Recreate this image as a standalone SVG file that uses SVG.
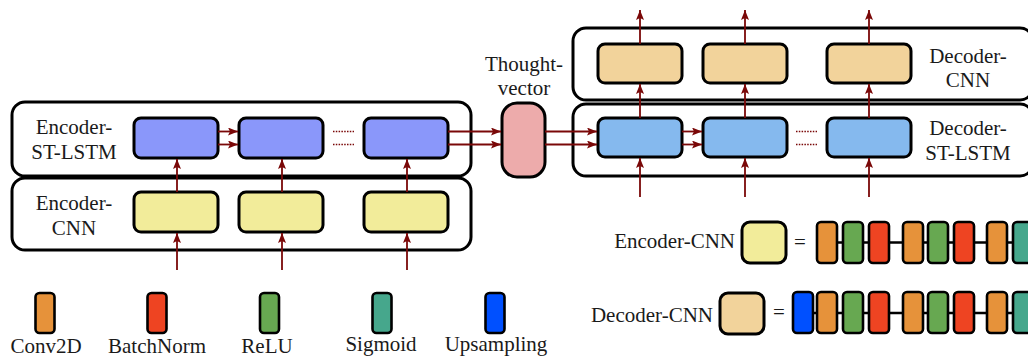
<svg xmlns="http://www.w3.org/2000/svg" width="1028" height="357" viewBox="0 0 1028 357">
<style>
text{font-family:"Liberation Serif","DejaVu Serif",serif;font-size:21px;fill:#1a1a1a}
.c{text-anchor:middle}
.e{text-anchor:end}
.outer{fill:#fff;stroke:#000;stroke-width:3}
.blk{stroke:#000;stroke-width:3}
.small{stroke:#000;stroke-width:2.6}
.encL{fill:#8A97FA}
.encC{fill:#F2EC9A}
.decL{fill:#85B9EE}
.decC{fill:#F2D39B}
.tv{fill:#EDABAB}
.conv{fill:#E6923A}
.bn{fill:#EE4422}
.relu{fill:#67A851}
.sig{fill:#46A78C}
.up{fill:#0050FF}
.arr{stroke:#7A0808;stroke-width:1.8;fill:none;marker-end:url(#ah)}
.dot{stroke:#7A0808;stroke-width:1.6;stroke-dasharray:1.5 1.3;fill:none}
.chain{stroke:#000;stroke-width:2.6}
</style>
<defs>
<marker id="ah" viewBox="0 0 10 8" refX="10" refY="4" markerWidth="10" markerHeight="8" markerUnits="userSpaceOnUse" orient="auto">
<path d="M0,0 L10,4 L0,8 L2,4 z" fill="#7A0808"/>
</marker>
</defs>

<g id="encoder-st-lstm">
<rect class="outer" x="12" y="102" width="459" height="74" rx="13"/>
<text class="c" x="74" y="134">Encoder-</text>
<text class="c" x="74" y="159">ST-LSTM</text>
<rect class="blk encL" x="134" y="118" width="84" height="40" rx="7"/>
<rect class="blk encL" x="239" y="118" width="84" height="40" rx="7"/>
<rect class="blk encL" x="364" y="118" width="84" height="40" rx="7"/>
</g>

<g id="encoder-cnn">
<rect class="outer" x="12" y="178" width="459" height="72" rx="13"/>
<text class="c" x="74" y="210">Encoder-</text>
<text class="c" x="74" y="235">CNN</text>
<rect class="blk encC" x="134" y="192" width="84" height="40" rx="7"/>
<rect class="blk encC" x="239" y="192" width="84" height="40" rx="7"/>
<rect class="blk encC" x="364" y="192" width="84" height="40" rx="7"/>
</g>

<g id="thought-vector">
<text class="c" x="524" y="71">Thought-</text>
<text class="c" x="524" y="95">vector</text>
<rect class="blk tv" x="502" y="103" width="43" height="74" rx="15"/>
</g>

<g id="decoder-cnn">
<rect class="outer" x="573" y="28" width="460" height="72" rx="13"/>
<text class="c" x="968" y="63">Decoder-</text>
<text class="c" x="968" y="87">CNN</text>
<rect class="blk decC" x="598" y="44" width="84" height="39" rx="7"/>
<rect class="blk decC" x="703" y="44" width="84" height="39" rx="7"/>
<rect class="blk decC" x="827" y="44" width="84" height="39" rx="7"/>
</g>

<g id="decoder-st-lstm">
<rect class="outer" x="573" y="104" width="460" height="72" rx="13"/>
<text class="c" x="968" y="135">Decoder-</text>
<text class="c" x="968" y="160">ST-LSTM</text>
<rect class="blk decL" x="598" y="118" width="84" height="39" rx="7"/>
<rect class="blk decL" x="703" y="118" width="84" height="39" rx="7"/>
<rect class="blk decL" x="827" y="118" width="84" height="39" rx="7"/>
</g>

<g id="connectors">
<line class="arr" x1="177" y1="270" x2="177" y2="233"/>
<line class="arr" x1="282" y1="270" x2="282" y2="233"/>
<line class="arr" x1="407" y1="270" x2="407" y2="233"/>
<line class="arr" x1="177" y1="192" x2="177" y2="159"/>
<line class="arr" x1="282" y1="192" x2="282" y2="159"/>
<line class="arr" x1="407" y1="192" x2="407" y2="159"/>
<line class="arr" x1="218" y1="131.5" x2="238" y2="131.5"/>
<line class="arr" x1="218" y1="144.5" x2="238" y2="144.5"/>
<line class="dot" x1="333" y1="131.5" x2="354" y2="131.5"/>
<line class="dot" x1="333" y1="144.5" x2="354" y2="144.5"/>
<line class="arr" x1="448" y1="131.5" x2="501" y2="131.5"/>
<line class="arr" x1="448" y1="144.5" x2="501" y2="144.5"/>
<line class="arr" x1="545" y1="131.5" x2="597" y2="131.5"/>
<line class="arr" x1="545" y1="144.5" x2="597" y2="144.5"/>
<line class="arr" x1="682" y1="131.5" x2="702" y2="131.5"/>
<line class="arr" x1="682" y1="144.5" x2="702" y2="144.5"/>
<line class="dot" x1="796" y1="131.5" x2="817" y2="131.5"/>
<line class="dot" x1="796" y1="144.5" x2="817" y2="144.5"/>
<line class="arr" x1="640" y1="197" x2="640" y2="158"/>
<line class="arr" x1="745" y1="197" x2="745" y2="158"/>
<line class="arr" x1="869" y1="197" x2="869" y2="158"/>
<line class="arr" x1="640" y1="118" x2="640" y2="84"/>
<line class="arr" x1="745" y1="118" x2="745" y2="84"/>
<line class="arr" x1="869" y1="118" x2="869" y2="84"/>
<line class="arr" x1="640" y1="44" x2="640" y2="10"/>
<line class="arr" x1="745" y1="44" x2="745" y2="10"/>
<line class="arr" x1="869" y1="44" x2="869" y2="10"/>
</g>

<g id="legend-encoder-cnn">
<text class="e" x="735" y="248">Encoder-CNN</text>
<rect class="blk encC" x="742" y="222" width="44" height="41" rx="8"/>
<text class="c" x="800" y="249">=</text>
<line class="chain" x1="827" y1="242.5" x2="1028" y2="242.5"/>
<rect class="small conv" x="817" y="222" width="20" height="41" rx="4"/>
<rect class="small relu" x="843" y="222" width="20" height="41" rx="4"/>
<rect class="small bn" x="869" y="222" width="20" height="41" rx="4"/>
<rect class="small conv" x="903" y="222" width="20" height="41" rx="4"/>
<rect class="small relu" x="928" y="222" width="20" height="41" rx="4"/>
<rect class="small bn" x="954" y="222" width="20" height="41" rx="4"/>
<rect class="small conv" x="987" y="222" width="20" height="41" rx="4"/>
<rect class="small sig" x="1013" y="222" width="20" height="41" rx="4"/>
</g>

<g id="legend-decoder-cnn">
<text class="e" x="713" y="322">Decoder-CNN</text>
<rect class="blk decC" x="720" y="293" width="44" height="41" rx="8"/>
<text class="c" x="779" y="319">=</text>
<line class="chain" x1="803" y1="313" x2="1028" y2="313"/>
<rect class="small up" x="793" y="292" width="20" height="41" rx="4"/>
<rect class="small conv" x="817" y="292" width="20" height="41" rx="4"/>
<rect class="small relu" x="843" y="292" width="20" height="41" rx="4"/>
<rect class="small bn" x="869" y="292" width="20" height="41" rx="4"/>
<rect class="small conv" x="903" y="292" width="20" height="41" rx="4"/>
<rect class="small relu" x="928" y="292" width="20" height="41" rx="4"/>
<rect class="small bn" x="954" y="292" width="20" height="41" rx="4"/>
<rect class="small conv" x="987" y="292" width="20" height="41" rx="4"/>
<rect class="small sig" x="1013" y="292" width="20" height="41" rx="4"/>
</g>

<g id="legend-layers">
<rect class="small conv" x="35.5" y="293" width="19" height="40" rx="4"/>
<text class="c" x="46" y="353">Conv2D</text>
<rect class="small bn" x="147.5" y="293" width="19" height="40" rx="4"/>
<text class="c" x="157" y="353">BatchNorm</text>
<rect class="small relu" x="260" y="293" width="19" height="40" rx="4"/>
<text class="c" x="267" y="353">ReLU</text>
<rect class="small sig" x="372.5" y="293" width="19" height="40" rx="4"/>
<text class="c" x="381" y="351">Sigmoid</text>
<rect class="small up" x="485.5" y="293" width="19" height="40" rx="4"/>
<text class="c" x="496" y="351">Upsampling</text>
</g>
</svg>
